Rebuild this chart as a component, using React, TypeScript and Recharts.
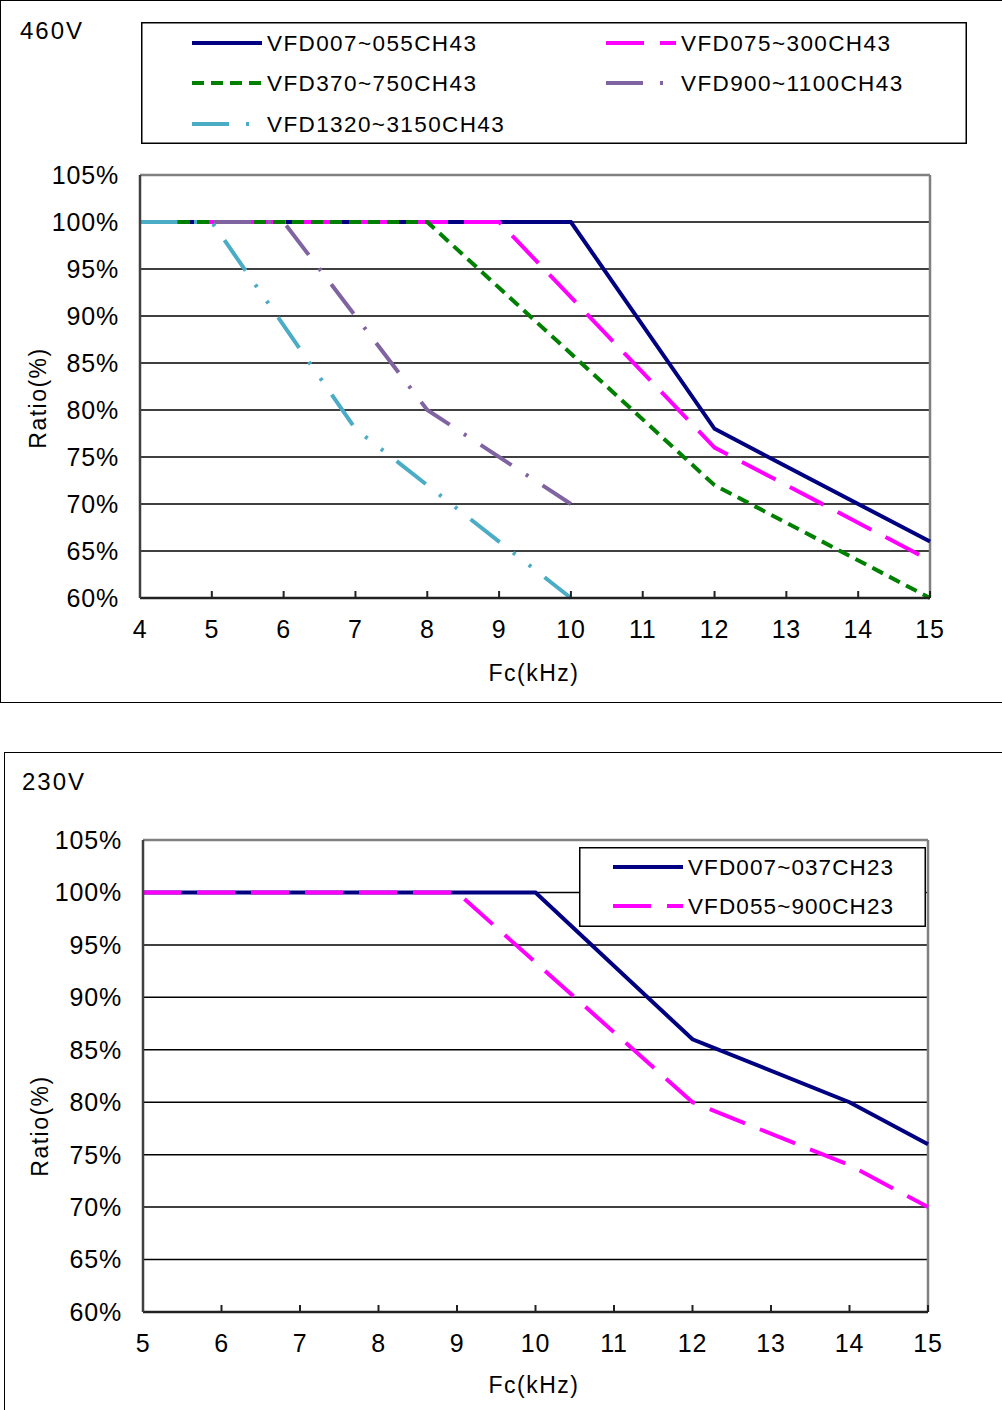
import React from 'react'
import {
  LineChart,
  Line,
  XAxis,
  YAxis,
  CartesianGrid,
  ReferenceLine,
  Legend,
} from 'recharts'

const FONT = '"Liberation Sans", Arial, Helvetica, sans-serif'

// ---- data ----
const ratioTicks = [60, 65, 70, 75, 80, 85, 90, 95, 100, 105]

// 460V
const fcTicks460 = [4, 5, 6, 7, 8, 9, 10, 11, 12, 13, 14, 15]
const vfd007_055CH43 = [
  { fc: 4, ratio: 100 },
  { fc: 10, ratio: 100 },
  { fc: 12, ratio: 78 },
  { fc: 15, ratio: 66 },
]
const vfd075_300CH43 = [
  { fc: 4, ratio: 100 },
  { fc: 9, ratio: 100 },
  { fc: 12, ratio: 76 },
  { fc: 15, ratio: 64 },
]
const vfd370_750CH43 = [
  { fc: 4, ratio: 100 },
  { fc: 8, ratio: 100 },
  { fc: 12, ratio: 72 },
  { fc: 15, ratio: 60 },
]
const vfd900_1100CH43 = [
  { fc: 4, ratio: 100 },
  { fc: 6, ratio: 100 },
  { fc: 8, ratio: 80 },
  { fc: 10, ratio: 70 },
]
const vfd1320_3150CH43 = [
  { fc: 4, ratio: 100 },
  { fc: 5, ratio: 100 },
  { fc: 7, ratio: 78 },
  { fc: 10, ratio: 60 },
]

// 230V
const fcTicks230 = [5, 6, 7, 8, 9, 10, 11, 12, 13, 14, 15]
const vfd007_037CH23 = [
  { fc: 5, ratio: 100 },
  { fc: 10, ratio: 100 },
  { fc: 12, ratio: 86 },
  { fc: 14, ratio: 80 },
  { fc: 15, ratio: 76 },
]
const vfd055_900CH23 = [
  { fc: 5, ratio: 100 },
  { fc: 9, ratio: 100 },
  { fc: 12, ratio: 80 },
  { fc: 14, ratio: 74 },
  { fc: 15, ratio: 70 },
]

type Series = {
  name: string
  data: { fc: number; ratio: number }[]
  color: string
  dash?: string
}

const series460: Series[] = [
  { name: 'VFD007~055CH43', data: vfd007_055CH43, color: '#000080' },
  { name: 'VFD075~300CH43', data: vfd075_300CH43, color: '#ff00ff', dash: '38 16' },
  { name: 'VFD370~750CH43', data: vfd370_750CH43, color: '#008000', dash: '12 7' },
  { name: 'VFD900~1100CH43', data: vfd900_1100CH43, color: '#8064a2', dash: '37 17 3 17' },
  { name: 'VFD1320~3150CH43', data: vfd1320_3150CH43, color: '#4bacc6', dash: '37 17 3 17 3 17' },
]

const series230: Series[] = [
  { name: 'VFD007~037CH23', data: vfd007_037CH23, color: '#000080' },
  { name: 'VFD055~900CH23', data: vfd055_900CH23, color: '#ff00ff', dash: '38 16' },
]

const tickStyle = { fill: '#000', fontSize: 25, fontFamily: FONT, letterSpacing: 0.8 }

function legendBox(
  items: Series[],
  w: number,
  h: number,
  slots: { x: number; y: number }[],
  fontSize: number,
  spacing: number,
) {
  return () => (
    <svg width={w} height={h} style={{ display: 'block' }}>
      <rect x={0.75} y={0.75} width={w - 1.5} height={h - 1.5} fill="#fff" stroke="#000" strokeWidth={1.5} />
      {items.map((s, i) => (
        <g key={s.name}>
          <line
            x1={slots[i].x}
            x2={slots[i].x + 70}
            y1={slots[i].y}
            y2={slots[i].y}
            stroke={s.color}
            strokeWidth={4}
            strokeDasharray={s.dash}
          />
          <text
            x={slots[i].x + 75}
            y={slots[i].y + fontSize * 0.36}
            fontSize={fontSize}
            fontFamily={FONT}
            letterSpacing={spacing}
            fill="#000"
          >
            {s.name}
          </text>
        </g>
      ))}
    </svg>
  )
}

function axisTitle(text: string, x: number, y: number, rotate = false) {
  return () => (
    <text
      x={x}
      y={y}
      textAnchor="middle"
      fontSize={23}
      fontFamily={FONT}
      letterSpacing={1.5}
      fill="#000"
      transform={rotate ? `rotate(-90 ${x} ${y})` : undefined}
    >
      {text}
    </text>
  )
}

function DeratingChart({
  series,
  fcTicks,
  width,
  height,
  margin,
  legend,
  yTitle,
  xTitle,
}: {
  series: Series[]
  fcTicks: number[]
  width: number
  height: number
  margin: { top: number; right: number; bottom: number; left: number }
  legend: { style: React.CSSProperties; content: () => React.ReactElement }
  yTitle: { x: number; y: number }
  xTitle: { x: number; y: number }
}) {
  const lo = fcTicks[0]
  const hi = fcTicks[fcTicks.length - 1]
  return (
    <LineChart width={width} height={height} margin={margin}>
      <CartesianGrid vertical={false} stroke="#000" strokeWidth={1.5} />
      <XAxis
        type="number"
        dataKey="fc"
        domain={[lo, hi]}
        ticks={fcTicks}
        interval={0}
        height={40}
        tickSize={-7}
        tickMargin={29}
        axisLine={{ stroke: '#222', strokeWidth: 2.5 }}
        tickLine={{ stroke: '#222', strokeWidth: 2 }}
        tick={tickStyle}
        label={{ content: axisTitle('Fc(kHz)', xTitle.x, xTitle.y) }}
      />
      <YAxis
        type="number"
        domain={[60, 105]}
        ticks={ratioTicks}
        interval={0}
        width={100}
        tickSize={0}
        tickMargin={21}
        tickFormatter={(v) => `${v}%`}
        axisLine={{ stroke: '#404040', strokeWidth: 2.5 }}
        tickLine={false}
        tick={tickStyle}
        label={{ content: axisTitle('Ratio(%)', yTitle.x, yTitle.y, true) }}
      />
      <ReferenceLine y={105} stroke="#808080" strokeWidth={2.5} />
      <ReferenceLine x={hi} stroke="#808080" strokeWidth={2.5} />
      {series.map((s) => (
        <Line
          key={s.name}
          name={s.name}
          data={s.data}
          dataKey="ratio"
          type="linear"
          stroke={s.color}
          strokeWidth={4}
          strokeDasharray={s.dash}
          dot={false}
          activeDot={false}
          isAnimationActive={false}
        />
      ))}
      <Legend
        layout="vertical"
        align="center"
        verticalAlign="middle"
        wrapperStyle={legend.style}
        content={legend.content}
      />
    </LineChart>
  )
}

export default function App() {
  return (
    <div
      style={{
        position: 'absolute',
        left: 0,
        top: 0,
        width: 1002,
        height: 1410,
        overflow: 'hidden',
        background: '#fff',
        fontFamily: FONT,
      }}
    >
      <div style={{ position: 'absolute', left: 0, top: 0, width: 1020, height: 703, border: '1px solid #000', boxSizing: 'border-box' }} />
      <div style={{ position: 'absolute', left: 4, top: 752, width: 1020, height: 700, border: '1px solid #000', boxSizing: 'border-box' }} />

      <div style={{ position: 'absolute', left: 20, top: 19, fontSize: 24, letterSpacing: 2, lineHeight: '24px' }}>460V</div>
      <div style={{ position: 'absolute', left: 22, top: 770, fontSize: 24, letterSpacing: 2, lineHeight: '24px' }}>230V</div>

      <div style={{ position: 'absolute', left: 0, top: 0 }}>
        <DeratingChart
          series={series460}
          fcTicks={fcTicks460}
          width={1002}
          height={703}
          margin={{ top: 175, right: 72, bottom: 65, left: 40 }}
          legend={{
            style: { left: 141, top: 22, width: 826, height: 122 },
            content: legendBox(
              series460,
              826,
              122,
              [
                { x: 51, y: 21 },
                { x: 465, y: 21 },
                { x: 51, y: 61 },
                { x: 465, y: 61 },
                { x: 51, y: 102 },
              ],
              22.5,
              1.4,
            ),
          }}
          yTitle={{ x: 46, y: 398 }}
          xTitle={{ x: 534, y: 681 }}
        />
      </div>

      <div style={{ position: 'absolute', left: 0, top: 752 }}>
        <DeratingChart
          series={series230}
          fcTicks={fcTicks230}
          width={1002}
          height={658}
          margin={{ top: 88, right: 74, bottom: 58, left: 43 }}
          legend={{
            style: { left: 579, top: 95, width: 347, height: 80 },
            content: legendBox(
              series230,
              347,
              80,
              [
                { x: 34, y: 20 },
                { x: 34, y: 59 },
              ],
              22.5,
              1.1,
            ),
          }}
          yTitle={{ x: 48, y: 374 }}
          xTitle={{ x: 534, y: 641 }}
        />
      </div>
    </div>
  )
}
